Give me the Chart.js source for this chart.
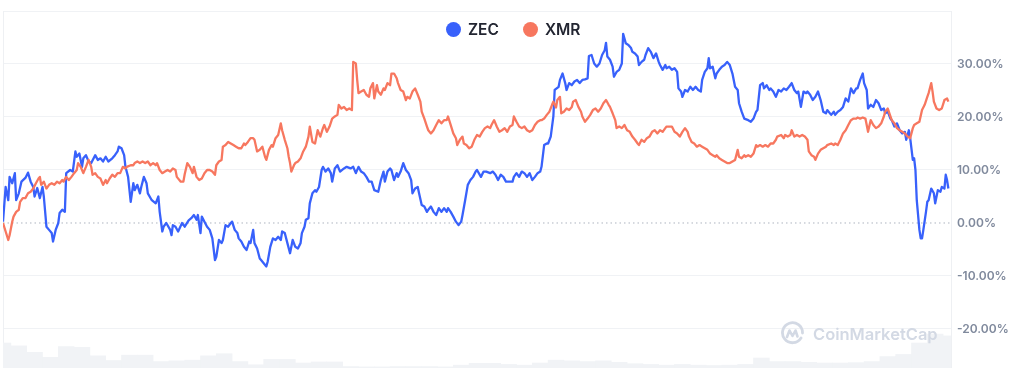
<!DOCTYPE html>
<html>
<head>
<meta charset="utf-8">
<script src="https://cdn.jsdelivr.net/npm/chart.js@4.4.1/dist/chart.umd.min.js"></script>
<style>
  html, body { margin: 0; padding: 0; background: #fff; overflow: hidden; }
  #wrap { position: relative; width: 1009px; height: 368px; font-family: Inter, "Noto Sans", sans-serif; }
  #legend { position: absolute; top: 21px; left: 446px; display: flex; align-items: center; }
  .item { display: flex; align-items: center; margin-right: 24px; }
  .dot { width: 15px; height: 15px; border-radius: 50%; margin-right: 7px; }
  .lbl { font-size: 15.5px; font-weight: 600; color: #222531; line-height: 17px; }
  #brand { position: absolute; left: 780px; top: 321px; display: flex; align-items: center; color: #D3D9E4; font-weight: 600; font-size: 16.5px; }
  #brand svg { margin-right: 8px; }
</style>
</head>
<body>
<div id="wrap">
  <canvas id="chart" width="1009" height="368"></canvas>
  <div id="legend"></div>
  <div id="brand">
    <svg width="25" height="25" viewBox="0 0 25 25"><path d="M21 17 A10 10 0 1 1 22.5 12" fill="none" stroke="#D3D9E4" stroke-width="2.8" stroke-linecap="round"/><path d="M7 16 L9.5 9.5 L12.5 15 L15.5 9.5 L17.5 15.5" fill="none" stroke="#D3D9E4" stroke-width="2.6" stroke-linejoin="round" stroke-linecap="round"/></svg>
    <span>CoinMarketCap</span>
  </div>
</div>
<script>
// Series names and colours
const seriesNames = ['ZEC', 'XMR'];
const seriesColors = ['#3861FB', '#F7775F'];

// ZEC: hours since start of the 30-day window, % change
const zecHours = [0,2,4,5,7,9,10,12,14,17,19,21,23,24,26,28,30,31,33,35,37,38,40,42,43,45,47,48,51,53,55,56,58,60,61,63,65,67,70,72,74,76,78,80,83,85,87,88,90,92,93,95,97,99,100,102,104,105,107,109,110,113,116,118,119,121,122,124,127,128,129,131,133,136,138,141,
  143,145,147,148,150,151,153,155,157,159,161,162,164,166,167,169,171,173,174,176,178,179,181,183,185,187,188,190,191,193,195,196,198,200,201,203,205,207,209,211,212,214,216,218,220,222,224,226,227,229,230,232,233,235,237,238,240,242,243,245,247,249,250,252,254,256,259,261,264,266,268,270,272,274,276,278,280,282,
  285,287,289,290,292,294,295,297,299,300,302,304,306,308,310,311,313,315,316,318,320,322,323,325,327,329,331,333,335,337,338,340,342,344,346,348,349,351,353,355,357,359,360,363,365,367,370,372,374,376,378,380,382,384,387,388,390,392,394,396,398,400,402,404,406,408,409,411,413,414,416,418,419,
  422,423,425,427,428,430,432,434,436,438,440,442,444,445,447,449,451,453,455,457,458,459,461,463,464,466,468,470,471,473,475,477,478,480,482,483,485,487,488,490,492,494,496,498,499,501,503,504,506,508,510,512,513,515,516,518,520,522,524,526,528,530,531,533,535,536,537,539,541,542,544,546,548,550,552,554,556,558,559,561,563,
  566,568,570,572,573,575,577,578,580,582,583,585,587,589,591,593,595,597,599,601,603,604,606,608,610,611,613,615,617,619,621,623,625,626,629,631,632,634,636,638,640,642,644,646,648,649,651,653,654,656,657,659,661,663,665,667,669,670,672,674,675,677,679,681,683,685,686,688,689,691,692,693,694,696,697,698,699,701,702,703,705,707,708,710,712,713,715,716,717,718];
const zecPct = [0.25,6.8,4.3,8.7,7.5,9.4,4.3,5.6,7.8,8.5,9.5,7.8,6.8,5.0,6.6,4.7,6.8,5.0,-0.7,-1.3,-1.9,-3.5,-1.3,0,1.9,2.5,2.1,9.4,10,9.7,13.5,12.5,13.1,10.6,12.2,12.8,11.6,11.3,12.8,11.9,12.2,11.6,12.5,11.6,12.2,12.8,13.5,14.4,14.1,12.8,10.6,8.7,4.0,7.5,6.2,7.2,5.6,6.8,8.7,7.5,5.6,4.3,3.7,5.0,2.1,-1.6,-0.7,0,-1.3,-2.3,-0.4,-0.7,-1.6,0,-0.7,0.5,
  0.9,1.5,0.6,1.5,-1.9,1.2,0.25,-0.7,-1.3,-2.9,-7.0,-6.4,-3.2,-3.8,-3.2,-0.4,-0.7,0,0.25,-1.3,-1.9,-2.9,-3.5,-4.5,-5.1,-3.5,-3.8,-1.3,-3.8,-4.8,-6.7,-7.0,-7.6,-8.2,-7.3,-4.5,-2.9,-3.2,-2.6,-3.2,-1.6,-1.9,-3.8,-5.7,-3.2,-4.5,-4.8,-3.8,-1.9,-0.7,0.6,0.9,3.7,5.6,6.2,5.9,6.8,10.0,10.6,9.7,10.3,9.4,7.8,10.3,10.9,9.7,10.3,10.6,10.3,10.6,9.4,10.6,9.7,9.4,8.7,7.8,7.8,6.2,
  5.9,8.1,9.7,7.8,9.7,10.3,10,8.1,9.4,8.7,9.7,11.3,10,9.4,8.1,5.6,6.5,6.8,5.6,3.4,3.1,2.1,2.5,3.1,2.1,1.5,2.8,2.1,2.8,2.1,2.8,2.1,1.2,0.25,-0.4,0.25,1.5,4.3,7.2,8.1,8.7,9.7,10,8.7,9.7,9.7,9.4,9.7,9.1,8.1,9.1,8.7,7.8,7.8,7.8,8.7,9.4,8.7,9.7,9.4,8.7,9.4,8.1,8.7,9.4,9.7,10.6,14.7,15.0,15.0,16.3,20.1,25.1,
  25.7,27.0,28.2,26.4,25.1,26.4,26.0,26.7,27.0,26.4,27.0,27.1,27.3,31.5,31.7,30.1,29.5,30.1,31.7,32.6,34.0,31.4,30.8,29.5,27.6,28.5,28.9,30.1,35.7,33.9,33.6,33.0,32.3,32.0,31.4,29.8,30.4,30.8,31.7,33.0,32.3,31.1,32.0,30.4,29.8,28.9,29.8,29.2,29.5,28.9,29.2,28.5,25.4,24.8,23.8,25.1,24.8,25.7,25.1,25.7,25.1,24.8,27.0,28.5,29.2,31.1,29.2,29.5,27.3,28.2,28.9,29.5,29.8,30.4,29.8,28.2,25.7,25.1,22.6,21.0,19.7,
  19.4,19.1,19.7,21.0,21.3,26.0,26.4,25.4,26.0,25.1,25.4,24.8,23.8,25.1,24.8,25.4,25.1,25.7,26.4,25.1,24.5,24.8,21.9,24.8,24.5,24.8,24.2,23.2,23.8,24.8,23.2,21.0,20.7,21.3,20.4,21.0,20.4,21.0,21.3,21.9,23.5,22.9,25.4,24.5,25.4,25.4,27.0,28.2,26.4,25.1,21.6,22.3,21.9,23.2,22.6,21.3,21.6,20.7,21.0,19.7,19.4,18.2,18.8,17.5,16.9,17.2,15.7,17.5,16.0,11.9,12.2,10.0,4.3,-1.3,-2.9,-2.9,-1.3,2.1,4.0,4.3,6.5,5.6,3.7,6.2,5.9,6.8,6.5,9.1,8.1,6.5];

// XMR: hours since start, % change
const xmrHours = [0,2,4,5,7,8,10,12,13,15,17,19,21,23,25,27,28,29,31,33,35,37,39,41,43,45,46,48,50,52,54,56,57,59,61,63,65,67,68,70,
  72,74,76,78,79,81,83,85,87,89,91,93,94,97,99,100,102,104,106,108,110,112,114,116,117,119,121,123,125,127,129,131,132,135,137,138,140,142,144,145,
  147,149,151,153,155,157,159,161,162,164,166,167,169,171,173,175,177,179,181,183,184,186,188,190,191,193,195,197,199,200,202,204,205,207,209,211,212,214,216,217,
  218,219,221,222,224,226,228,230,232,233,235,237,239,241,243,244,246,248,250,252,254,255,257,259,261,263,265,266,268,269,270,272,274,276,278,279,281,282,284,285,
  287,289,290,292,294,295,297,299,300,302,304,306,307,309,311,313,315,317,318,320,322,323,325,327,329,331,333,335,337,338,340,342,344,345,347,349,350,352,354,356,
  358,360,362,364,366,368,370,371,373,375,377,379,381,383,385,387,388,390,392,394,396,398,400,402,404,406,408,409,411,413,415,417,418,420,421,423,424,426,428,430,
  432,433,435,437,439,440,442,444,446,448,450,452,454,456,458,460,461,463,465,466,468,470,472,474,476,478,480,482,483,485,487,489,491,493,495,497,499,501,503,504,
  506,508,510,512,514,516,518,520,521,523,525,527,529,531,533,535,537,539,541,542,544,546,548,550,552,554,556,558,559,561,563,564,566,568,570,572,573,575,577,579,
  581,583,585,587,588,591,593,594,596,598,599,601,603,605,607,609,611,612,614,616,617,619,621,623,625,626,629,631,632,634,636,638,640,642,644,646,648,649,651,653,
  655,657,659,661,663,665,667,669,670,672,674,675,677,679,681,683,685,687,689,691,692,694,696,698,700,702,703,705,706,707,709,711,713,715,717,718];
const xmrPct = [0,-1.6,-3.2,-2.3,0.25,1.2,2.1,2.5,4.0,4.7,4.7,5.6,5.9,6.5,7.5,8.4,8.7,7.2,7.8,6.5,7.2,7.5,7.2,7.8,7.5,8.1,7.8,8.7,8.1,8.7,9.4,10,11.3,10.6,9.4,10.6,11.9,10.6,9.1,9.4,
  8.7,8.4,7.2,8.1,7.5,8.4,9.1,8.7,9.4,9.4,10.6,10.3,10.6,10.9,10.9,11.3,11.6,11.3,11.6,11.3,11.6,10.9,11.3,10.9,11.3,10,9.4,9.7,10,9.7,10.3,10,8.7,7.8,7.8,9.2,11.3,10.6,9.4,10.6,
  8.7,8.1,8.4,9.4,10,10,9.7,9.1,10.9,11.6,11.9,14.4,14.7,15.3,15.0,14.7,14.4,14.1,14.1,15.0,14.7,15.3,16.0,16.0,15.7,13.5,13.8,14.4,12.5,11.9,13.8,14.7,14.4,16.0,16.6,18.8,17.5,15.7,14.1,12.5,
  11.3,9.7,10.9,11.3,11.6,12.2,13.5,14.4,16.3,18.2,15.3,15.0,17.5,16.3,17.9,18.5,17.2,18.2,19.7,20.1,20.4,22.3,21.6,21.9,21.3,21.6,21.3,30.4,30.1,27.0,24.5,24.8,25.1,24.2,23.8,25.4,26.4,23.5,26.0,24.8,
  24.2,25.4,25.1,26.4,26.0,28.2,28.2,27.3,26.4,25.1,24.8,23.2,23.8,23.5,24.8,25.4,24.2,22.9,21.0,19.7,18.2,17.5,16.9,17.5,18.5,19.4,18.8,19.4,19.4,20.1,18.5,16.9,16.0,14.7,15.7,16.3,15.0,14.7,14.1,14.4,
  15.7,16.6,16.3,17.2,17.9,18.2,17.9,18.5,19.4,18.2,17.2,17.5,17.9,17.2,18.2,18.5,20.1,19.1,18.2,17.9,18.2,17.5,17.2,17.5,18.5,19.1,19.4,19.4,19.7,20.4,21.0,22.3,22.9,21.8,23.2,23.8,20.7,21.0,21.6,21.3,
  21.9,22.9,23.2,21.9,21.0,20.1,19.1,19.7,20.4,21.3,21.6,21.0,21.6,22.6,23.2,22.3,21.9,20.7,19.4,17.9,18.2,17.9,18.5,17.5,17.2,16.3,15.7,15.0,14.7,15.7,15.3,16.0,16.3,17.2,17.5,16.9,17.5,17.2,17.9,18.2,
  18.2,18.2,17.2,16.9,16.3,17.2,17.9,17.2,16.3,15.3,15.0,14.4,14.7,14.4,14.1,13.8,13.1,12.8,12.5,12.8,12.2,11.9,11.6,11.3,11.3,11.6,11.9,13.8,12.5,12.2,12.8,12.5,12.8,12.5,13.1,14.7,14.4,14.7,14.4,14.7,
  14.4,15.0,15.0,15.7,16.3,16.6,16.0,16.6,16.3,16.6,17.5,16.3,16.6,16.3,16.6,16.3,15.7,13.5,12.8,12.5,11.9,13.1,13.8,14.1,14.4,14.7,15.0,14.7,15.0,14.7,15.7,16.9,17.5,18.5,19.4,19.7,19.7,19.9,19.7,19.9,
  19.7,17.2,19.4,18.5,17.9,18.2,18.8,20.1,21.0,21.6,20.1,19.4,18.8,17.9,17.5,17.2,16.9,16.3,16.0,17.9,18.5,18.8,19.1,21.3,22.3,23.8,24.5,26.4,24.8,22.9,21.6,21.3,21.6,23.2,23.5,22.9];

// Volume (relative units, 12h buckets)
const volumeHours = [0,12,24,36,48,60,72,84,96,108,120,132,144,156,168,180,192,204,216,228,240,252,264,276,288,300,312,324,336,348,
  360,372,384,396,408,420,432,444,456,468,480,492,504,516,528,540,552,564,576,588,600,612,624,636,648,660,672,684,696,708,720];
const volumeValues = [70,62,44,30,60,58,34,21,36,36,18,20,22,34,40,18,9,24,24,14,17,17,4,3,3,4,4,4,3,8,
  13,13,10,8,14,22,20,18,20,16,12,10,8,10,8,7,8,10,28,18,18,16,14,14,15,18,32,38,70,95,90];

// Zero reference line
const zeroHours = [0, 720];
const zeroLevel = [0, 0];

// Y axis ticks
const yTicks = [-20, -10, 0, 10, 20, 30, 40];
const yTickLabels = ['-20.00%', '-10.00%', '0.00%', '10.00%', '20.00%', '30.00%', ''];

// Legend
const legend = document.getElementById('legend');
legend.innerHTML = seriesNames.map((n, i) =>
  `<div class="item"><span class="dot" style="background:${seriesColors[i]}"></span><span class="lbl">${n}</span></div>`).join('');

const toPoints = (hs, vs) => hs.map((h, i) => ({ x: h, y: vs[i] }));

const lineStyle = (i) => ({
  label: seriesNames[i],
  borderColor: seriesColors[i],
  borderWidth: 2.3,
  borderJoinStyle: 'round',
  pointRadius: 0,
  tension: 0,
  yAxisID: 'y'
});

new Chart(document.getElementById('chart'), {
  type: 'line',
  data: {
    datasets: [
      {
        type: 'bar',
        label: 'Volume',
        data: toPoints(volumeHours, volumeValues),
        yAxisID: 'vol',
        backgroundColor: '#F1F3F6',
        borderWidth: 0,
        barPercentage: 1,
        categoryPercentage: 1,
        order: 5
      },
      {
        label: 'zero',
        data: toPoints(zeroHours, zeroLevel),
        borderColor: '#AEB4BF',
        borderWidth: 1,
        borderDash: [1.5, 3],
        pointRadius: 0,
        yAxisID: 'y',
        order: 4
      },
      { ...lineStyle(0), data: toPoints(zecHours, zecPct), order: 2 },
      { ...lineStyle(1), data: toPoints(xmrHours, xmrPct), order: 1 }
    ]
  },
  options: {
    responsive: false,
    animation: false,
    devicePixelRatio: 1,
    layout: { padding: { top: 11, left: 3, right: 0, bottom: 0 } },
    plugins: { legend: { display: false }, tooltip: { enabled: false } },
    scales: {
      x: {
        type: 'linear',
        display: false,
        offset: false,
        min: 0,
        max: 720,
        grid: { offset: false }
      },
      edge: {
        axis: 'y',
        position: 'left',
        display: true,
        min: 0,
        max: 1,
        ticks: { display: false },
        grid: { display: false, drawTicks: false },
        border: { display: true, color: '#EEF0F3' }
      },
      y: {
        position: 'right',
        min: -27.36,
        max: 40,
        afterBuildTicks: (s) => { s.ticks = yTicks.map(v => ({ value: v })); },
        afterFit: (s) => {
          s.width = 58;
          // labels sit inside the plot, no extra room needed above/below
          s.paddingTop = 0;
          s.paddingBottom = 0;
        },
        ticks: {
          padding: 6,
          color: '#808A9D',
          font: { family: 'Inter', size: 12, weight: '600' },
          callback: (v) => yTickLabels[yTicks.indexOf(v)]
        },
        grid: {
          color: (c) => (c.tick && c.tick.value === 0) ? 'rgba(0,0,0,0)' : '#F0F2F5',
          drawTicks: false
        },
        border: { color: '#EEF0F3' }
      },
      vol: { display: false, min: 0, max: 1000 }
    }
  }
});
</script>
</body>
</html>
